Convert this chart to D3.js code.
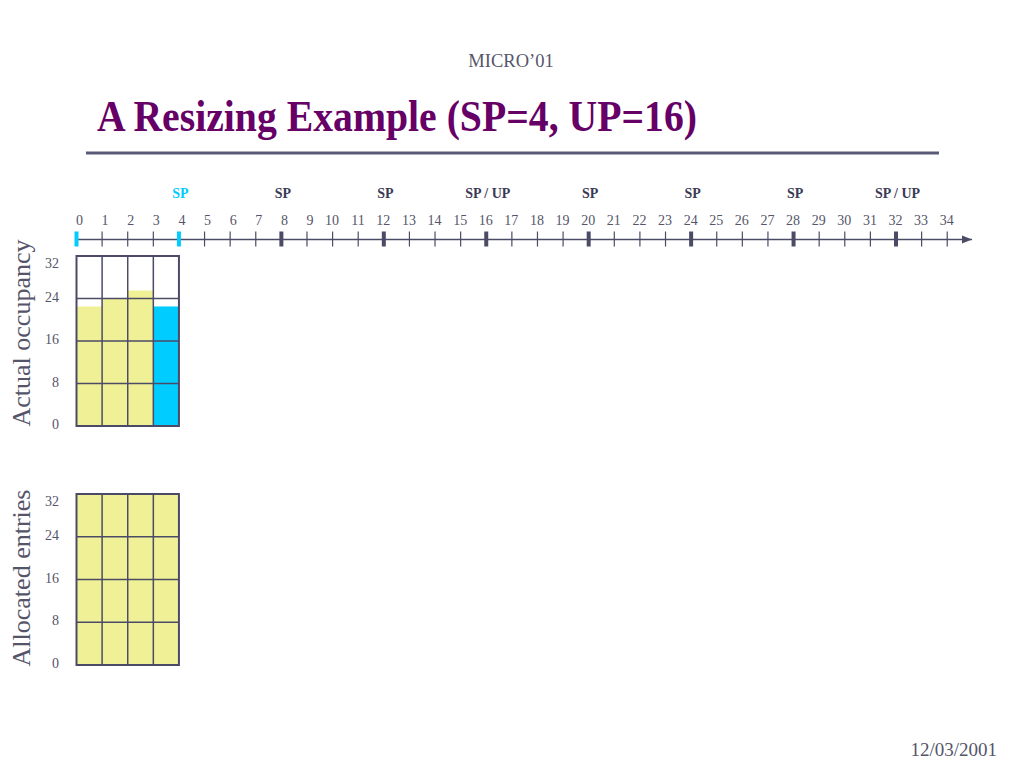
<!DOCTYPE html>
<html lang="en">
<meta charset="utf-8">
<title>A Resizing Example</title>
<script src="https://d3js.org/d3.v7.min.js"></script>
<style>
  body { margin: 0; background: #fff; }
  text { font-family: "Liberation Serif", "Times New Roman", serif; }
</style>
<svg width="1024" height="768"></svg>
<script>
// data
var steps = d3.range(0, 35);                 // timeline ticks 0..34
var phaseTicks = [4, 8, 12, 16, 20, 24, 28, 32];
var phaseLabels = ["SP", "SP", "SP", "SP / UP", "SP", "SP", "SP", "SP / UP"];
var activeTicks = [0, 4];                    // highlighted (current interval)
var columns = [0, 1, 2, 3];
var occupancy = [22.5, 24, 25.5, 22.5];
var occupancyColor = ["yellow", "yellow", "yellow", "blue"];
var allocated = [32, 32, 32, 32];
var yTicks = [0, 8, 16, 24, 32];

var slate = "#4b4b68", textGray = "#55556a";
var yellow = "#f0f096", blue = "#00ccff";

var svg = d3.select("svg");

// header
svg.append("text").attr("x", 511).attr("y", 67).attr("text-anchor", "middle")
  .style("font-size", "18.5px").attr("fill", textGray).text("MICRO\u201901");
svg.append("text").attr("transform", "translate(97,131) scale(1,1.1)")
  .attr("textLength", 600).attr("lengthAdjust", "spacingAndGlyphs")
  .style("font-size", "40px").style("font-weight", "bold").attr("fill", "#660066")
  .text("A Resizing Example (SP=4, UP=16)");
svg.append("line").attr("x1", 86).attr("x2", 939).attr("y1", 153).attr("y2", 153)
  .attr("stroke", "#5a5a78").attr("stroke-width", 3);
svg.append("text").attr("x", 997).attr("y", 756).attr("text-anchor", "end")
  .style("font-size", "19px").attr("fill", textGray).text("12/03/2001");

// timeline
var x = d3.scaleLinear().domain([0, 32]).range([76.5, 896]);
var axisY = 239.5;

svg.append("defs").append("marker").attr("id", "arrow")
  .attr("viewBox", "0 0 10 10").attr("refX", 10).attr("refY", 5)
  .attr("markerWidth", 10).attr("markerHeight", 10).attr("markerUnits", "userSpaceOnUse")
  .attr("orient", "auto")
  .append("path").attr("d", "M0,1 L10,5 L0,9 Z").attr("fill", slate);

svg.append("line").attr("x1", x(0)).attr("x2", 972).attr("y1", axisY).attr("y2", axisY)
  .attr("stroke", slate).attr("stroke-width", 1.5).attr("marker-end", "url(#arrow)");

svg.append("g").selectAll("line").data(steps).join("line")
  .attr("x1", function(d) { return x(d); }).attr("x2", function(d) { return x(d); })
  .attr("y1", 231.5).attr("y2", 246.5)
  .attr("stroke", function(d) { return activeTicks.indexOf(d) >= 0 ? blue : slate; })
  .attr("stroke-width", function(d) { return (activeTicks.indexOf(d) >= 0 || phaseTicks.indexOf(d) >= 0) ? 4 : 1.2; });

svg.append("g").selectAll("text").data(steps).join("text")
  .attr("x", function(d) { return x(d) + 6.5; }).attr("y", 225)
  .attr("text-anchor", "end").style("font-size", "14px").attr("fill", textGray)
  .text(function(d) { return d; });

svg.append("g").selectAll("text").data(phaseTicks).join("text")
  .attr("x", function(d) { return x(d) + 1.5; }).attr("y", 198)
  .attr("text-anchor", "middle").style("font-size", "14px").style("font-weight", "bold")
  .attr("fill", function(d) { return activeTicks.indexOf(d) >= 0 ? blue : "#3a3a55"; })
  .text(function(d, i) { return phaseLabels[i]; });

// bar panels
function panel(top, bottom, values, colors, title, titleY) {
  var y = d3.scaleLinear().domain([0, 32]).range([bottom, top]);
  var g = svg.append("g");

  g.selectAll("rect.bar").data(columns).join("rect").attr("class", "bar")
    .attr("x", function(d) { return x(d); })
    .attr("width", function(d) { return x(d + 1) - x(d); })
    .attr("y", function(d) { return y(values[d]); })
    .attr("height", function(d) { return y(0) - y(values[d]); })
    .attr("fill", function(d) { return colors[d] === "blue" ? blue : yellow; });

  g.selectAll("line.h").data([8, 16, 24]).join("line").attr("class", "h")
    .attr("x1", x(0)).attr("x2", x(4))
    .attr("y1", function(d) { return y(d); }).attr("y2", function(d) { return y(d); })
    .attr("stroke", slate).attr("stroke-width", 1.5);

  g.selectAll("line.v").data([1, 2, 3]).join("line").attr("class", "v")
    .attr("x1", function(d) { return x(d); }).attr("x2", function(d) { return x(d); })
    .attr("y1", y(32)).attr("y2", y(0))
    .attr("stroke", slate).attr("stroke-width", 1.5);

  g.append("rect").attr("x", x(0)).attr("y", y(32))
    .attr("width", x(4) - x(0)).attr("height", y(0) - y(32))
    .attr("fill", "none").attr("stroke", slate).attr("stroke-width", 2);

  g.selectAll("text.tick").data(yTicks).join("text").attr("class", "tick")
    .attr("x", 59).attr("y", function(d) { return Math.max(y(d) + 3, y(32) + 12); })
    .attr("text-anchor", "end").style("font-size", "14px").attr("fill", textGray)
    .text(function(d) { return d; });

  g.append("text")
    .attr("transform", "translate(30," + titleY + ") rotate(-90)")
    .attr("text-anchor", "middle").style("font-size", "26px").attr("fill", textGray)
    .text(title);
}

panel(256, 426, occupancy, occupancyColor, "Actual occupancy", 333);
panel(494, 665, allocated, ["yellow", "yellow", "yellow", "yellow"], "Allocated entries", 578);
</script>
</html>
